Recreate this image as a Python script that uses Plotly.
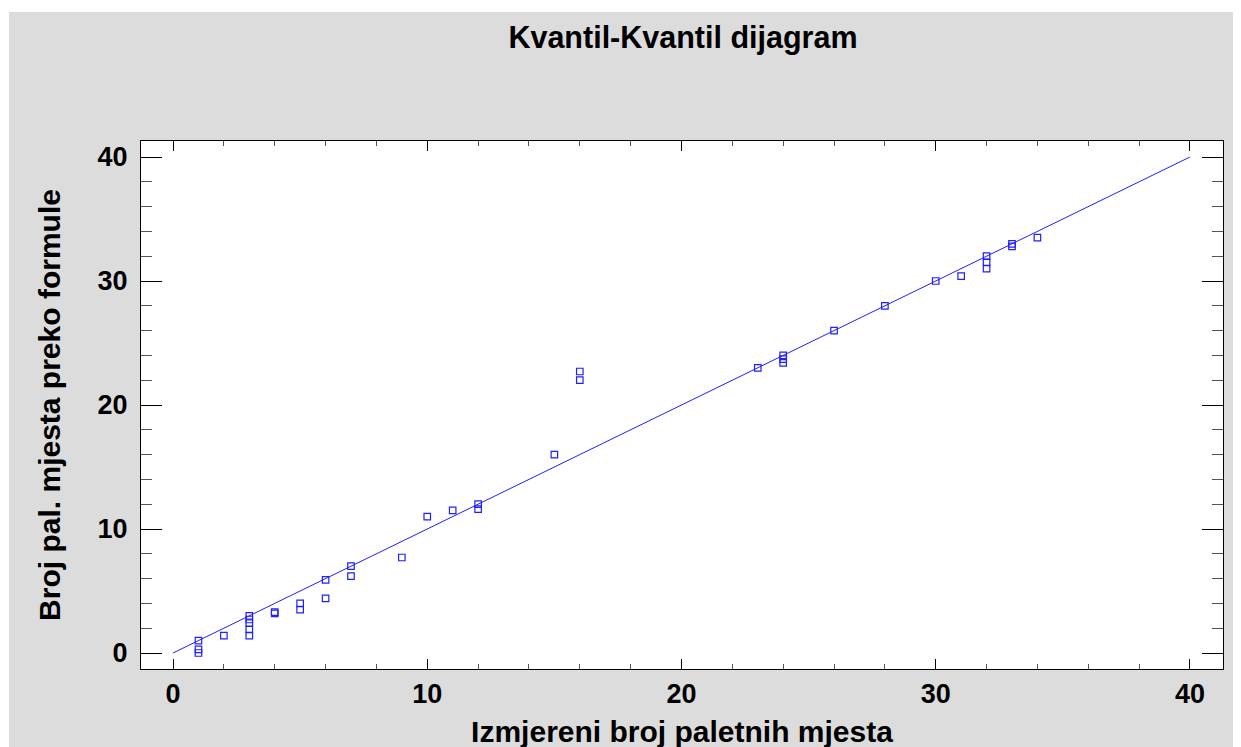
import plotly.graph_objects as go

# Data
measured = [1, 1, 1, 2, 3, 3, 3, 3, 3, 4, 4, 5, 5, 6, 6, 7, 7, 9, 10, 11, 12, 12,
            15, 16, 16, 23, 24, 24, 24, 26, 28, 30, 31, 32, 32, 32, 33, 33, 34]
formula = [1.0, 0.3, 0.0, 1.4, 3.0, 2.7, 2.4, 1.9, 1.4, 3.2, 3.3, 4.0, 3.5, 5.9, 4.4,
           7.0, 6.2, 7.7, 11.0, 11.5, 12.0, 11.6, 16.0, 22.7, 22.0, 23.0, 24.0, 23.7,
           23.4, 26.0, 28.0, 30.0, 30.4, 32.0, 31.5, 31.0, 33.0, 32.8, 33.5]
ref_line_x = [0, 40]
ref_line_y = [0, 40]
tick_vals = [0, 10, 20, 30, 40]

title_text = "Kvantil-Kvantil dijagram"
x_title = "Izmjereni broj paletnih mjesta"
y_title = "Broj pal. mjesta preko formule"

FONT = "Liberation Sans, Arial, sans-serif"
BLUE = "#1f1fff"
GRAY = "#dcdcdc"

# page is offset by the 8px default body margin
L, R, T, B = 133, 26, 133, 86
W, H = 1241, 747
PW, PH = W - L - R, H - T - B

fig = go.Figure()
fig.add_trace(go.Scatter(x=ref_line_x, y=ref_line_y, mode="lines",
                         line=dict(color=BLUE, width=1), hoverinfo="skip",
                         showlegend=False))
fig.add_trace(go.Scatter(x=measured, y=formula, mode="markers",
                         marker=dict(symbol="square-open", size=6.5,
                                     color=BLUE, line=dict(width=1.2, color=BLUE)),
                         showlegend=False))

fig.update_layout(
    width=W, height=H,
    paper_bgcolor=GRAY, plot_bgcolor="white",
    margin=dict(l=L, r=R, t=T, b=B, autoexpand=False),
    font=dict(family=FONT, color="black"),
    title=dict(text=title_text, x=675 / W, xanchor="center",
               y=1 - 29 / H, yanchor="middle", yref="container",
               font=dict(size=30.5, weight="bold", family=FONT)),
    shapes=[
        dict(type="rect", xref="paper", yref="paper", x0=-0.2, x1=1.2,
             y0=1 + (T - 4) / PH, y1=1.5, fillcolor="white",
             line=dict(width=0), layer="below"),
        dict(type="rect", xref="paper", yref="paper", x0=-0.2, x1=-(L - 1) / PW,
             y0=-0.5, y1=1.5, fillcolor="white", line=dict(width=0),
             layer="below"),
    ],
)

fig.update_xaxes(
    range=[-1.26, 41.30], tickvals=tick_vals, showgrid=False, zeroline=False,
    automargin=False,
    showline=True, linecolor="black", linewidth=1, mirror="allticks",
    ticks="inside", ticklen=10, tickcolor="black", tickwidth=1,
    minor=dict(dtick=2, ticks="inside", ticklen=5, tickcolor="#555", showgrid=False),
    tickfont=dict(size=27, weight="bold", family=FONT),
    ticklabelstandoff=1,
    title=dict(text=x_title, font=dict(size=30, weight="bold", family=FONT),
               standoff=12),
)
fig.update_yaxes(
    range=[-1.29, 41.29], tickvals=tick_vals, showgrid=False, zeroline=False,
    automargin=False,
    showline=True, linecolor="black", linewidth=1, mirror="allticks",
    ticks="inside", ticklen=21, tickcolor="black", tickwidth=1,
    minor=dict(dtick=2, ticks="inside", ticklen=11, tickcolor="#555", showgrid=False),
    tickfont=dict(size=27, weight="bold", family=FONT),
    ticklabelstandoff=7,
    title=dict(text=y_title, font=dict(size=30, weight="bold", family=FONT),
               standoff=28),
)

fig.write_html("out.html")
